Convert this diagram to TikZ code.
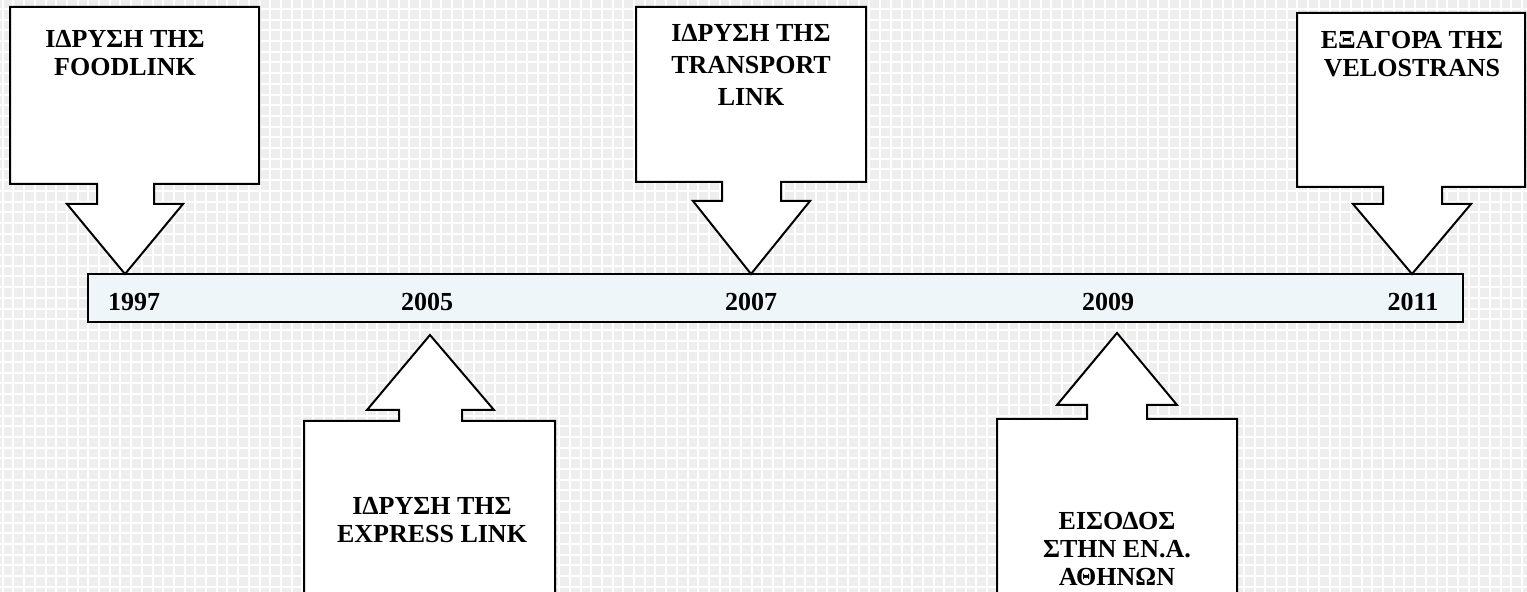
\documentclass[tikz,border=0pt]{standalone}
\usepackage{fontspec}
\setmainfont{Liberation Serif}
\definecolor{barblue}{RGB}{239,246,250}
\definecolor{tilegray}{RGB}{238,238,238}
\begin{document}
\begin{tikzpicture}[x=0.5pt,y=-0.5pt]
    \tikzstyle{label}=[font=\bfseries\fontsize{13}{14}\selectfont, align=center, inner sep=0pt]
    \tikzstyle{year}=[font=\bfseries\fontsize{13}{14}\selectfont, inner sep=0pt]
    \tikzstyle{callout}=[fill=white, draw=black, line width=1pt, line join=miter]
    \useasboundingbox (0,0) rectangle (1527,592);
    \clip (0,0) rectangle (1527,592);
    % background tiles
    \fill[tilegray] (0,0) rectangle (1527,592);
    \foreach \i in {0,...,143}
      \draw[white, line width=1pt] (2.7+\i*10.7,0) -- (2.7+\i*10.7,592);
    \foreach \j in {0,...,55}
      \draw[white, line width=1pt] (0,9+\j*10.7) -- (1527,9+\j*10.7);
    % time bar
    \filldraw[fill=barblue, draw=black, line width=1pt] (88,274) rectangle (1463,322);
    \node[year] (y1997) at (134,302) {1997};
    \node[year] (y2005) at (427,302) {2005};
    \node[year] (y2007) at (751,302) {2007};
    \node[year] (y2009) at (1108,302) {2009};
    \node[year] (y2011) at (1413,302) {2011};
    % arrows from above
    \filldraw[callout] (10,7) -- (259,7) -- (259,184) -- (154,184) -- (154,204) -- (183,204)
      -- (125,274) -- (67,204) -- (97,204) -- (97,184) -- (10,184) -- cycle;
    \filldraw[callout] (636,7) -- (866,7) -- (866,182) -- (781,182) -- (781,201) -- (810,201)
      -- (751,274) -- (693,201) -- (722,201) -- (722,182) -- (636,182) -- cycle;
    \filldraw[callout] (1297,13) -- (1525,13) -- (1525,187) -- (1442,187) -- (1442,204) -- (1471,204)
      -- (1412,274) -- (1353,204) -- (1383,204) -- (1383,187) -- (1297,187) -- cycle;
    % arrows from below
    \filldraw[callout] (304,600) -- (304,421) -- (399,421) -- (399,410) -- (367,410)
      -- (430,335) -- (494,410) -- (462,410) -- (462,421) -- (555,421) -- (555,600) -- cycle;
    \filldraw[callout] (997,600) -- (997,419) -- (1087,419) -- (1087,405) -- (1057,405)
      -- (1117,333) -- (1177,405) -- (1147,405) -- (1147,419) -- (1237,419) -- (1237,600) -- cycle;
    \node[label] (foodlink) at (125,53) {ΙΔΡΥΣΗ ΤΗΣ\\FOODLINK};
    \node[label] (express) at (432,520) {ΙΔΡΥΣΗ ΤΗΣ\\EXPRESS LINK};
    \node[label] (transport) at (751,65) {ΙΔΡΥΣΗ ΤΗΣ\\[2pt]TRANSPORT\\[2pt]LINK};
    \node[label] (athens) at (1117,549) {ΕΙΣΟΔΟΣ\\ΣΤΗΝ ΕΝ.Α.\\ΑΘΗΝΩΝ};
    \node[label] (velostrans) at (1412,54) {ΕΞΑΓΟΡΑ ΤΗΣ\\VELOSTRANS};
\end{tikzpicture}
\end{document}
